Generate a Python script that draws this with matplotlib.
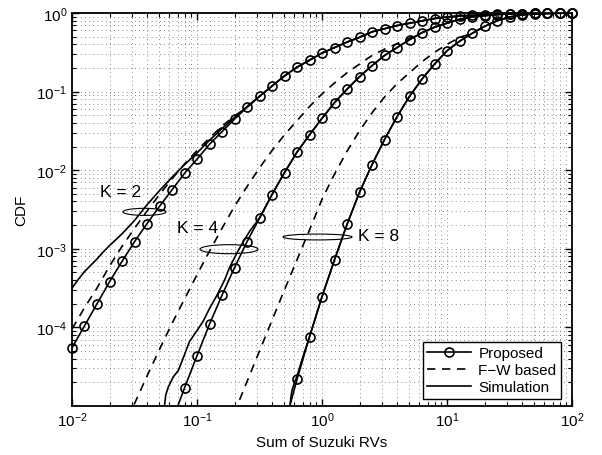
import numpy as np
import matplotlib
matplotlib.use("Agg")
import matplotlib.pyplot as plt
from matplotlib.lines import Line2D
from matplotlib.patches import Ellipse

plt.rcParams['font.family'] = ['Liberation Sans', 'DejaVu Sans']
plt.rcParams['mathtext.fontset'] = 'custom'
plt.rcParams['mathtext.rm'] = 'Liberation Sans'
plt.rcParams['mathtext.it'] = 'Liberation Sans:italic'
plt.rcParams['mathtext.default'] = 'regular'

# proposed approximation, sampled every 0.1 decade: log10(x), log10(CDF)
prop_k2_logx = [-2.0, -1.9, -1.8, -1.7, -1.6, -1.5, -1.4, -1.3, -1.2, -1.1,
                -1.0, -0.9, -0.8, -0.7, -0.6, -0.5, -0.4, -0.3, -0.2, -0.1,
                0.0, 0.1, 0.2, 0.3, 0.4, 0.5, 0.6, 0.7, 0.8, 0.9,
                1.0, 1.1, 1.2, 1.3, 1.4, 1.5, 1.6, 1.7, 1.8, 1.9, 2.0]
prop_k2_logy = [-4.26, -3.98, -3.70, -3.42, -3.16, -2.91, -2.68, -2.46, -2.25, -2.04,
                -1.86, -1.67, -1.51, -1.35, -1.20, -1.06, -0.93, -0.80, -0.69, -0.60,
                -0.51, -0.44, -0.37, -0.31, -0.24, -0.20, -0.16, -0.13, -0.10, -0.07,
                -0.05, -0.04, -0.03, -0.02, -0.015, -0.01, -0.007, -0.005, -0.003, -0.002, -0.001]

prop_k4_logx = [-1.2, -1.1, -1.0, -0.9, -0.8, -0.7, -0.6, -0.5, -0.4, -0.3,
                -0.2, -0.1, 0.0, 0.1, 0.2, 0.3, 0.4, 0.5, 0.6, 0.7,
                0.8, 0.9, 1.0, 1.1, 1.2, 1.3, 1.4, 1.5, 1.6, 1.7, 1.8, 1.9, 2.0]
prop_k4_logy = [-5.2, -4.77, -4.36, -3.96, -3.59, -3.24, -2.91, -2.61, -2.31, -2.03,
                -1.77, -1.55, -1.34, -1.14, -0.97, -0.81, -0.67, -0.54, -0.44, -0.34,
                -0.25, -0.18, -0.13, -0.08, -0.05, -0.035, -0.02, -0.012, -0.008, -0.005,
                -0.003, -0.002, -0.001]

prop_k8_logx = [-0.3, -0.2, -0.1, 0.0, 0.1, 0.2, 0.3, 0.4, 0.5, 0.6,
                0.7, 0.8, 0.9, 1.0, 1.1, 1.2, 1.3, 1.4, 1.5, 1.6, 1.7, 1.8, 1.9, 2.0]
prop_k8_logy = [-5.25, -4.66, -4.12, -3.61, -3.14, -2.69, -2.28, -1.93, -1.61, -1.32,
                -1.06, -0.84, -0.65, -0.48, -0.36, -0.26, -0.17, -0.10, -0.05, -0.025,
                -0.012, -0.006, -0.003, -0.001]

# F-W based approximation, up to where it joins the proposed curve
fw_k2_logx = [-2.0, -1.9, -1.8, -1.7, -1.6, -1.5, -1.4, -1.3, -1.2, -1.1,
              -1.0, -0.9, -0.8, -0.7]
fw_k2_logy = [-4.02, -3.75, -3.50, -3.22, -2.97, -2.74, -2.52, -2.31, -2.11, -1.92,
              -1.75, -1.59, -1.44, -1.31]

fw_k4_logx = [-1.6, -1.5, -1.4, -1.3, -1.2, -1.1, -1.0, -0.9, -0.8, -0.7,
              -0.6, -0.5, -0.4, -0.3, -0.2, -0.1, 0.0, 0.1, 0.2, 0.3,
              0.4, 0.5, 0.6, 0.7]
fw_k4_logy = [-5.33, -4.97, -4.62, -4.28, -3.95, -3.64, -3.33, -3.03, -2.74, -2.46,
              -2.21, -1.97, -1.75, -1.55, -1.37, -1.19, -1.03, -0.89, -0.76, -0.65,
              -0.54, -0.46, -0.39, -0.32]

fw_k8_logx = [-0.8, -0.7, -0.6, -0.5, -0.4, -0.3, -0.2, -0.1, 0.0, 0.1,
              0.2, 0.3, 0.4, 0.5, 0.6, 0.7, 0.8, 0.9, 1.0, 1.1]
fw_k8_logy = [-5.45, -5.08, -4.69, -4.30, -3.91, -3.52, -3.14, -2.76, -2.37, -2.05,
              -1.76, -1.50, -1.27, -1.07, -0.90, -0.76, -0.62, -0.50, -0.40, -0.31]

# simulation, up to where it joins the proposed curve
sim_k2_logx = [-2.0, -1.95, -1.9, -1.85, -1.8, -1.75, -1.7, -1.6, -1.5, -1.4,
               -1.3, -1.2, -1.1, -1.0, -0.9, -0.8, -0.7, -0.6]
sim_k2_logy = [-3.50, -3.39, -3.29, -3.21, -3.13, -3.04, -2.96, -2.81, -2.64, -2.44,
               -2.26, -2.09, -1.93, -1.78, -1.62, -1.47, -1.33, -1.19]

sim_k4_logx = [-1.26, -1.25, -1.23, -1.19, -1.15, -1.12, -1.06, -1.0, -0.95, -0.9,
               -0.84, -0.78, -0.74, -0.68, -0.63, -0.58]
sim_k4_logy = [-5.0, -4.86, -4.76, -4.63, -4.55, -4.43, -4.18, -4.04, -3.92, -3.76,
               -3.59, -3.40, -3.24, -3.05, -2.91, -2.78]

sim_k8_logx = [-0.256, -0.25, -0.24, -0.22, -0.2, -0.15]
sim_k8_logy = [-5.0, -4.90, -4.80, -4.70, -4.62, -4.36]

legend_labels = ['Proposed', 'F\u2212W based', 'Simulation']
k_labels = ['K = 2', 'K = 4', 'K = 8']


def with_tail(lx, ly, px, py):
    # continue a curve along the proposed one once they coincide
    xs = list(lx) + [a for a in px if a > lx[-1]]
    ys = list(ly) + [b for a, b in zip(px, py) if a > lx[-1]]
    return 10 ** np.array(xs), 10 ** np.array(ys)


fig = plt.figure(figsize=(6.02, 4.56), dpi=100)
ax = fig.add_axes([0.1196, 0.1075, 0.8306, 0.8618])
ax.set_xscale('log')
ax.set_yscale('log')

lw = 1.2
dash = (5, 4)

props = [(prop_k2_logx, prop_k2_logy), (prop_k4_logx, prop_k4_logy), (prop_k8_logx, prop_k8_logy)]
sims = [(sim_k2_logx, sim_k2_logy), (sim_k4_logx, sim_k4_logy), (sim_k8_logx, sim_k8_logy)]
fws = [(fw_k2_logx, fw_k2_logy), (fw_k4_logx, fw_k4_logy), (fw_k8_logx, fw_k8_logy)]

for (lx, ly), (px, py) in zip(sims, props):
    x, y = with_tail(lx, ly, px, py)
    ax.plot(x, y, color='k', lw=lw)

for (lx, ly), (px, py) in zip(fws, props):
    x, y = with_tail(lx, ly, px, py)
    ax.plot(x, y, color='k', lw=lw, dashes=dash)

for px, py in props:
    x = 10 ** np.array(px)
    y = 10 ** np.array(py)
    ax.plot(x, y, color='k', lw=lw)
    inside = y >= 1e-5
    ax.plot(x[inside], y[inside], linestyle='none', marker='o', ms=6.5,
            mfc='none', mec='k', mew=1.2, clip_on=False, zorder=4)

ax.set_xlim(1e-2, 1e2)
ax.set_ylim(1e-5, 1)
ax.set_yticks([1e-4, 1e-3, 1e-2, 1e-1, 1])
ax.set_xticks([1e-2, 1e-1, 1, 1e1, 1e2])
ax.grid(True, which='both', linestyle=(0, (1, 4)), color='0.4', linewidth=0.6)
ax.tick_params(which='both', direction='in', top=True, right=True, labelsize=11)
ax.tick_params(which='major', length=5, width=1)
ax.tick_params(which='minor', length=3, width=0.8)
for s in ax.spines.values():
    s.set_linewidth(1.3)

ax.set_xlabel('Sum of Suzuki RVs', fontsize=11)
ax.set_ylabel('CDF', fontsize=11, labelpad=6)

# K annotations with ellipses
ell_centers = [(0.145, 0.494), (0.314, 0.399), (0.491, 0.430)]
ell_sizes = [(0.086, 0.018), (0.116, 0.023), (0.138, 0.015)]
text_pos = [(0.056, 0.545), (0.21, 0.455), (0.572, 0.435)]
for c, sz in zip(ell_centers, ell_sizes):
    ax.add_patch(Ellipse(c, sz[0], sz[1], transform=ax.transAxes,
                         fill=False, edgecolor='k', lw=0.8, zorder=5))
for pos, lab in zip(text_pos, k_labels):
    ax.text(pos[0], pos[1], lab, transform=ax.transAxes, fontsize=12.5,
            va='center', ha='left')

handles = [
    Line2D([], [], color='k', lw=lw, marker='o', ms=6.5, mfc='none', mew=1.2),
    Line2D([], [], color='k', lw=lw, dashes=dash),
    Line2D([], [], color='k', lw=lw),
]
leg = ax.legend(handles, legend_labels, loc='lower right',
                bbox_to_anchor=(0.978, 0.018), borderaxespad=0,
                fontsize=11, fancybox=False, framealpha=1, edgecolor='k',
                handlelength=2.9, handletextpad=0.45, labelspacing=0.2,
                borderpad=0.3, numpoints=1)
leg.get_frame().set_linewidth(1.0)

fig.savefig('out.png', dpi=100)
